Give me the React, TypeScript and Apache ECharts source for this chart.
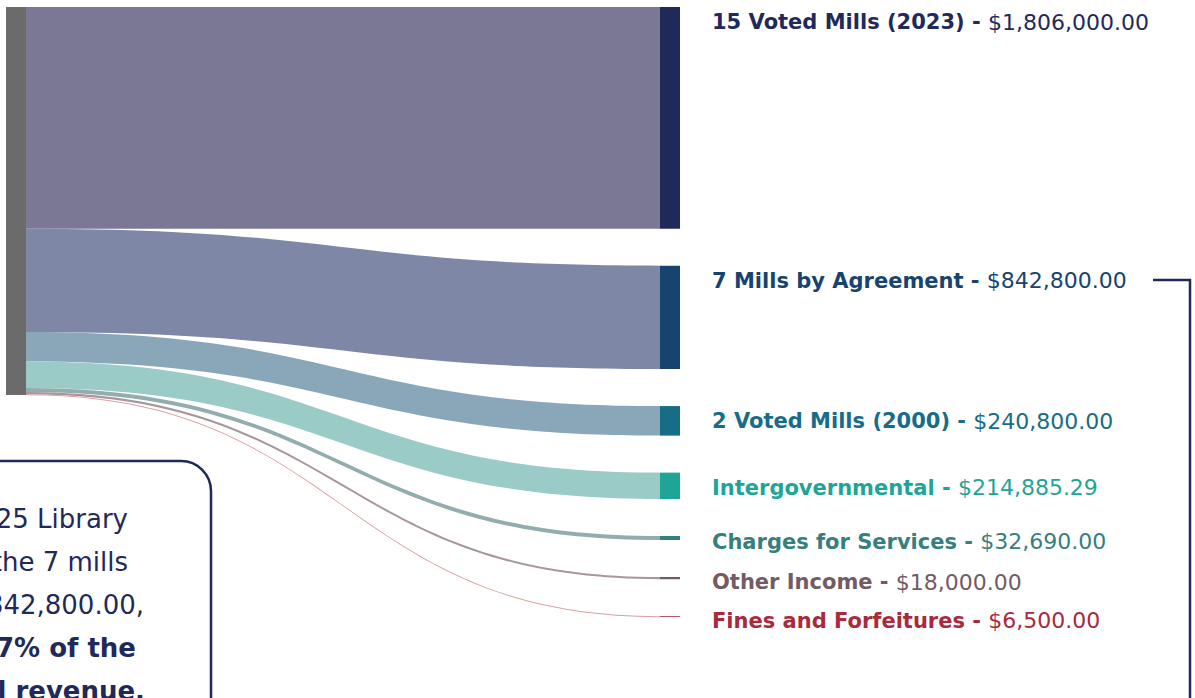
import React, { useEffect, useRef } from "react";
import * as echarts from "echarts";

const sourceName = "Total Revenue";
const categories = [
  "15 Voted Mills (2023)",
  "7 Mills by Agreement",
  "2 Voted Mills (2000)",
  "Intergovernmental",
  "Charges for Services",
  "Other Income",
  "Fines and Forfeitures",
];
const values = [1806000.0, 842800.0, 240800.0, 214885.29, 32690.0, 18000.0, 6500.0];
const nodeColors = ["#1f2a5a", "#17446e", "#176d87", "#1ea597", "#367f7d", "#735a64", "#a82a3c"];
const linkColors = ["#7b7896", "#7e87a6", "#8aa7b9", "#9acbc6", "#93adae", "#a8969c", "#d9a0a0"];
const boxLines = [
  "For FY2025 Library",
  "revenue, the 7 mills",
  "by agreement, $842,800.00,",
  "is about 27% of the",
  "total revenue.",
];
const boxBold = [false, false, false, true, true];

const fmt = (v: number) =>
  "$" + v.toLocaleString("en-US", { minimumFractionDigits: 2, maximumFractionDigits: 2 });

const FONT = "'DejaVu Sans', sans-serif";

export default function App() {
  const ref = useRef<HTMLDivElement>(null);
  useEffect(() => {
    document.body.style.margin = "0";
    const chart = echarts.init(ref.current!, null, { renderer: "svg" });
    const nodes: any[] = [
      { name: sourceName, itemStyle: { color: "#6b6b6b" }, label: { show: false } },
    ];
    categories.forEach((c, i) => {
      const big = i < 4;
      nodes.push({
        name: c,
        value: values[i],
        itemStyle: { color: nodeColors[i] },
        label: {
          show: true,
          position: big ? [52, 15] : "right",
          distance: 32,
          offset: big ? [0, 0] : [0, 4],
          align: "left",
          verticalAlign: "middle",
          formatter: () => `{b|${c} - }{v|${fmt(values[i])}}`,
          rich: {
            b: { fontFamily: FONT, fontWeight: "bold", fontSize: 21, color: nodeColors[i] },
            v: { fontFamily: FONT, fontWeight: "normal", fontSize: 22, color: nodeColors[i] },
          },
        },
      });
    });
    const links = categories.map((c, i) => ({
      source: sourceName,
      target: c,
      value: values[i],
      lineStyle: { color: linkColors[i], opacity: 1 },
    }));

    const graphics: any[] = [
      {
        type: "rect",
        shape: { x: -40, y: 461, width: 251, height: 320, r: 30 },
        style: { fill: "#ffffff", stroke: "#1f2a5a", lineWidth: 2.5 },
        z: 10,
      },
      {
        type: "polyline",
        shape: { points: [[1153, 280], [1190, 280], [1190, 700]] },
        style: { stroke: "#1f2a5a", lineWidth: 2.5, fill: null },
        z: 10,
      },
    ];
    const rightEdges = [128, 128, 144, 136, 145];
    boxLines.forEach((t, i) => {
      graphics.push({
        type: "text",
        x: rightEdges[i],
        y: 519 + i * 43,
        z: 11,
        style: {
          text: t,
          align: "right",
          verticalAlign: "middle",
          fill: "#1f2a5a",
          font: `${boxBold[i] ? "bold" : "normal"} 26px ${FONT}`,
        },
      });
    });

    chart.setOption({
      animation: false,
      backgroundColor: "#ffffff",
      series: [
        {
          type: "sankey",
          left: 6,
          top: 7,
          right: 515,
          bottom: 81,
          nodeWidth: 20,
          nodeGap: 37,
          layoutIterations: 0,
          draggable: false,
          emphasis: { disabled: true },
          data: nodes,
          links,
          lineStyle: { curveness: 0.5, opacity: 1 },
        },
      ],
      graphic: graphics,
    });
    return () => chart.dispose();
  }, []);
  return <div ref={ref} style={{ width: 1195, height: 698 }} />;
}
